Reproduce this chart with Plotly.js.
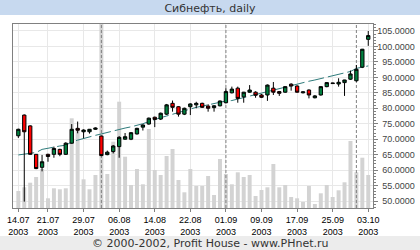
<!DOCTYPE html>
<html><head><meta charset="utf-8">
<script src="https://cdn.plot.ly/plotly-3.0.1.min.js"></script>
<style>html,body{margin:0;padding:0;background:#fff;}#chart{width:420px;height:250px;}</style>
</head><body><div id="chart"></div>
<script>
// trading days
const dates = [
 "14.07.2003","15.07.2003","16.07.2003","17.07.2003","18.07.2003","21.07.2003","22.07.2003","23.07.2003","24.07.2003","25.07.2003",
 "28.07.2003","29.07.2003","30.07.2003","31.07.2003","01.08.2003","04.08.2003","05.08.2003","06.08.2003","07.08.2003","08.08.2003",
 "11.08.2003","12.08.2003","13.08.2003","14.08.2003","15.08.2003","18.08.2003","19.08.2003","20.08.2003","21.08.2003","22.08.2003",
 "25.08.2003","26.08.2003","27.08.2003","28.08.2003","29.08.2003","01.09.2003","02.09.2003","03.09.2003","04.09.2003","05.09.2003",
 "08.09.2003","09.09.2003","10.09.2003","11.09.2003","12.09.2003","15.09.2003","16.09.2003","17.09.2003","18.09.2003","19.09.2003",
 "22.09.2003","23.09.2003","24.09.2003","25.09.2003","26.09.2003","29.09.2003","30.09.2003","01.10.2003","02.10.2003","03.10.2003"];
const openP = [71.1,77.8,74.3,65.1,60.9,65.1,65.1,66.7,65.1,68.7, 73.5,72.4,72.4,73.2,71.0,65.0,66.0,67.6,70.0,70.0,
 71.7,73.9,74.9,77.1,76.5,78.1,81.6,80.5,78.1,80.5, 81.1,81.6,80.7,80.2,80.8,81.8,85.0,86.5,83.7,85.2,
 85.2,84.3,84.3,86.5,85.4,85.2,87.8,87.2,85.0,85.9, 83.4,84.3,87.0,88.2,87.85,88.3,89.4,88.9,93.3,102.3];
const highP = [73.4,78.0,74.5,65.2,64.9,65.3,67.6,66.9,69.0,74.9, 75.7,73.2,73.3,73.8,71.1,66.3,68.1,71.0,72.0,72.3,
 73.7,74.8,77.0,77.3,78.6,81.4,82.5,80.7,80.2,81.6, 82.1,81.8,81.3,81.0,82.5,86.5,87.0,87.0,85.3,87.5,
 85.5,84.6,87.7,88.5,85.6,87.1,88.1,87.4,85.4,86.1, 84.3,87.1,88.5,88.3,89.7,89.2,92.2,94.0,99.2,105.0];
const lowP = [70.4,49.8,65.0,60.3,59.6,62.7,64.0,64.5,64.9,68.5, 71.9,70.3,71.8,73.0,64.5,64.8,65.4,64.0,69.8,69.7,
 71.5,72.8,74.7,73.9,76.2,77.8,78.9,77.3,77.8,77.8, 80.0,80.1,78.9,78.9,80.6,81.6,84.8,81.8,81.8,85.0,
 83.4,83.3,82.4,84.3,84.0,85.0,85.7,85.0,84.8,83.2, 83.2,84.1,86.8,88.0,87.0,84.0,89.2,88.6,93.0,100.2];
const closeP = [73.2,72.4,65.1,60.5,62.7,64.4,67.0,65.1,68.7,73.2, 72.9,72.95,73.2,73.6,64.7,65.8,67.8,70.6,70.8,72.1,
 73.5,74.6,76.8,76.4,78.4,81.1,80.3,78.1,80.0,81.4, 81.6,80.3,80.0,80.8,82.35,85.4,86.2,83.2,85.2,85.9,
 84.2,83.55,87.5,85.2,84.85,87.0,87.2,85.2,85.3,84.3, 84.0,87.0,88.3,88.0,88.4,89.15,91.1,92.6,99.1,103.5];
const trendLine = [64.9,65.1,65.4,65.7,66.7,67.1,67.5,67.8,68.05,69.1, 69.7,70.3,70.8,71.25,71.7,72.2,72.75,73.1,73.6,74.0,
 74.4,75.0,75.7,76.4,76.95,77.5,78.05,78.8,79.4,79.9, 80.3,80.7,81.1,81.5,81.9,82.35,82.5,83.0,83.5,84.0,
 84.45,84.8,85.4,85.9,86.4,86.9,87.4,87.85,88.4,88.75, 89.15,89.6,90.0,90.5,90.9,91.4,91.9,92.9,93.35,93.7];
// relative volume (visible bar heights)
const volume = [17,20.7,25.3,31,39,9.7,19.7,18.7,19.7,89.7, 79.7,28.7,18.7,33,200,34,66.3,106.3,51.3,23,
 39,23.7,79,38,33,52,59,28,15.7,39, 22,22,32,13,49,34,23.7,35.7,31,33,
 12,18,20.7,44,20.7,23,11,9.7,6,22, 4,14.7,23,11,17.7,25.7,67,35.7,50.3,33];
const tickDates = ["14.07.2003","21.07.2003","29.07.2003","06.08.2003","14.08.2003","22.08.2003","01.09.2003","09.09.2003","17.09.2003","25.09.2003","03.10.2003"];
const tickLabels = ["14.07<br>2003","21.07<br>2003","29.07<br>2003","06.08<br>2003","14.08<br>2003","22.08<br>2003","01.09<br>2003","09.09<br>2003","17.09<br>2003","25.09<br>2003","03.10<br>2003"];
const titleText = "Сибнефть, daily";
const footerText = "© 2000-2002, Profit House - www.PHnet.ru";

const priceRange = [47.74, 107.26];
const volRange = [0, 184];

const traces = [];
traces.push({type:'bar', x:dates, y:volume, xaxis:'x', yaxis:'y', marker:{color:'#d3d3d3', line:{width:0}}, hoverinfo:'skip'});
// month separators
for (let i = 1; i < dates.length; i++) {
  if (dates[i].slice(3,5) !== dates[i-1].slice(3,5)) {
    traces.push({type:'scatter', mode:'lines', x:[dates[i],dates[i]], y:volRange, xaxis:'x', yaxis:'y',
      line:{color:'#808080', width:1, dash:'3px,2px'}, hoverinfo:'skip'});
  }
}
traces.push({type:'scatter', mode:'lines', x:dates, y:trendLine, xaxis:'x', yaxis:'y2',
  line:{color:'#2e7b7b', width:1, dash:'16px,4px'}, hoverinfo:'skip'});
traces.push({type:'candlestick', x:dates, open:openP, high:highP, low:lowP, close:closeP, xaxis:'x', yaxis:'y3',
  increasing:{fillcolor:'#00803f', line:{color:'#000', width:1}},
  decreasing:{fillcolor:'#ff0000', line:{color:'#000', width:1}},
  whiskerwidth:0, hoverinfo:'skip'});

const pw = 360, ph = 184;
const layout = {
  width:420, height:250,
  margin:{l:13, r:47, t:24, b:42, pad:0},
  paper_bgcolor:'#fff', plot_bgcolor:'#fff',
  showlegend:false,
  font:{family:'Liberation Sans, Arial, sans-serif', size:9, color:'#000'},
  title:{text:titleText, x:0.5, xref:'container', xanchor:'center', y:1-8/250, yref:'container', yanchor:'middle',
    font:{family:'DejaVu Sans', size:11, color:'#333'}},
  xaxis:{type:'category', categoryorder:'array', categoryarray:dates, range:[-0.9, 59.8], rangeslider:{visible:false},
    tickmode:'array', tickvals:tickDates, ticktext:tickLabels, showgrid:true, gridcolor:'#e8e8e8', gridwidth:1,
    showline:true, mirror:true, linecolor:'#808080', linewidth:1, ticks:'outside', ticklen:3, tickcolor:'#808080',
    tickfont:{size:9}, zeroline:false, fixedrange:true, tickangle:0},
  yaxis:{range:volRange, showgrid:false, showticklabels:false, showline:true, linecolor:'#808080', zeroline:false, ticks:'', fixedrange:true},
  yaxis2:{overlaying:'y', side:'right', range:priceRange, tick0:50, dtick:5, tickformat:'.4f', showgrid:true, gridcolor:'#e8e8e8',
    showline:true, linecolor:'#808080', ticks:'outside', ticklen:4, tickcolor:'#808080',
    ticklabelposition:'inside', ticklabelstandoff:-43,
    minor:{dtick:1, ticklen:2, ticks:'outside', tickcolor:'#808080', showgrid:false}, zeroline:false, tickfont:{size:9}},
  yaxis3:{overlaying:'y', range:priceRange, visible:false, fixedrange:true},
  boxgap:0.2, bargap:0.33,
  shapes:[
    {type:'rect', xref:'paper', yref:'paper', x0:-13/pw, x1:407/pw, y0:(208-15)/ph, y1:208/ph, fillcolor:'#c7d9ef', line:{width:0}, layer:'below'},
    {type:'rect', xref:'paper', yref:'paper', x0:-13/pw, x1:407/pw, y0:(208-250)/ph, y1:(208-236)/ph, fillcolor:'#ececec', line:{width:0}, layer:'below'}
  ],
  annotations:[
    {text:footerText, xref:'paper', yref:'paper', x:(210-13)/pw, y:(208-243)/ph, xanchor:'center', yanchor:'middle', showarrow:false,
     font:{family:'DejaVu Sans', size:11, color:'#333'}}
  ]
};
Plotly.newPlot('chart', traces, layout, {staticPlot:true, displayModeBar:false});
</script></body></html>
